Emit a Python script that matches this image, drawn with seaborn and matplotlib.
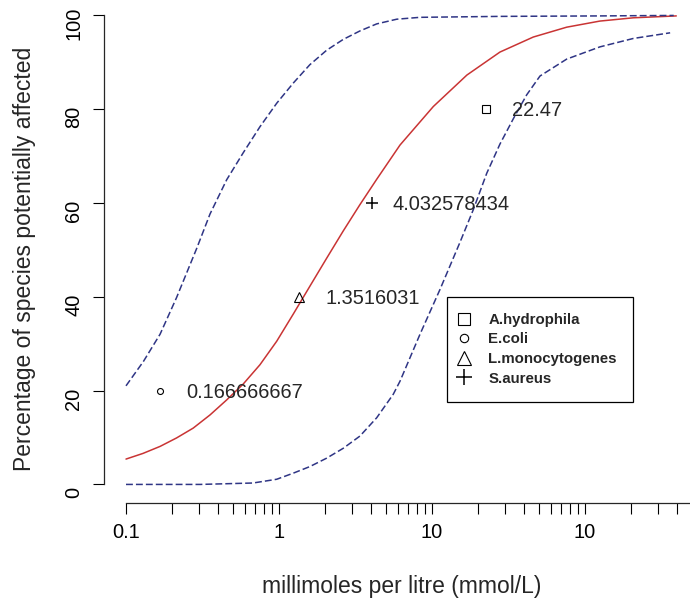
import numpy as np
import pandas as pd
import matplotlib
matplotlib.use("Agg")
import matplotlib.pyplot as plt
import matplotlib.transforms as mtransforms
import seaborn as sns

sns.set_style("ticks")
plt.rcParams['font.family'] = ['Liberation Sans', 'DejaVu Sans']

# fitted SSD curve
fit_x = [0.1, 0.129, 0.167, 0.214, 0.275, 0.354, 0.455, 0.584, 0.751, 0.966, 1.24, 1.59,
         2.05, 2.63, 3.38, 4.35, 6.18, 10.2, 16.9, 27.8, 45.9, 75.9, 125, 207, 395]
fit_y = [5.4, 6.6, 8.1, 9.9, 12.0, 14.8, 18.0, 21.4, 25.5, 30.5, 36.3, 42.2,
         48.2, 54.0, 59.6, 65.0, 72.3, 80.5, 87.2, 92.1, 95.3, 97.4, 98.7, 99.4, 99.8]

# upper and lower confidence limits
up_x = [0.1, 0.130, 0.167, 0.214, 0.290, 0.354, 0.455, 0.585, 0.751, 0.966, 1.24,
        1.59, 2.05, 2.63, 3.38, 4.35, 5.88, 8.35, 27.8, 125, 380]
up_y = [21.0, 26.2, 32.0, 39.8, 50.3, 57.6, 64.9, 70.7, 76.2, 81.2, 85.5,
        89.4, 92.5, 94.8, 96.6, 98.1, 99.1, 99.5, 99.7, 99.8, 99.9]

lo_x = [0.1, 0.305, 0.676, 0.966, 1.24, 1.59, 2.05, 2.63, 3.38, 4.35, 5.58, 6.18,
        8.35, 11.3, 15.2, 18.6, 22.8, 27.8, 34.0, 41.6, 50.8, 75.9, 125, 207, 360]
lo_y = [0.0, 0.0, 0.3, 1.1, 2.4, 3.8, 5.6, 7.7, 10.3, 14.2, 19.2, 22.0,
        32.0, 41.6, 51.5, 58.5, 66.3, 72.5, 77.9, 83.0, 87.0, 90.6, 93.2, 95.0, 96.2]

# species toxicity values
species = ["A.hydrophila", "E.coli", "L.monocytogenes", "S.aureus"]
conc = [22.47, 0.166666667, 1.3516031, 4.032578434]
pct = [80, 20, 40, 60]
conc_labels = ["22.47", "0.166666667", "1.3516031", "4.032578434"]

x_ticks = [0.1, 1, 10, 100]
x_ticklabels = ["0.1", "1", "10", "10"]
y_ticks = [0, 20, 40, 60, 80, 100]

fig = plt.figure(figsize=(6.9, 6.01), dpi=100)
ax = fig.add_axes([104 / 690, (601 - 503.2) / 601, 595 / 690, 507 / 601])

red = "#c93434"
navy = "#2f3585"
sns.lineplot(x=fit_x, y=fit_y, ax=ax, color=red, linewidth=1.1, estimator=None)
sns.lineplot(x=up_x, y=up_y, ax=ax, color=navy, linewidth=1.1, estimator=None).lines[-1].set_dashes((4.5, 2))
sns.lineplot(x=lo_x, y=lo_y, ax=ax, color=navy, linewidth=1.1, estimator=None).lines[-1].set_dashes((4.5, 2))

markers = ["s", "o", "^", "+"]
msizes = [6, 4.3, 7.5, 8.4]
offsets = [26, 26, 26, 21]
for sp, c, p, lab, m, ms, off in zip(species, conc, pct, conc_labels, markers, msizes, offsets):
    ax.plot([c], [p], linestyle="none", marker=m, markersize=ms, markerfacecolor="none",
            markeredgecolor="black", markeredgewidth=1.1 if m == "+" else 0.8,
            color="black", label=sp)
    ax.annotate(lab, (c, p), xytext=(off, 0), textcoords="offset pixels",
                ha="left", va="center_baseline", fontsize=14.4)

ax.set_xscale("log")
ax.set_xlim(10 ** -1.1438, 10 ** 2.745)
ax.set_ylim(-4, 104)

ax.spines[["top", "right"]].set_visible(False)
ax.spines["left"].set_bounds(0, 100)
ax.spines["bottom"].set_bounds(0.1, 500)
for s in ["left", "bottom"]:
    ax.spines[s].set_linewidth(0.9)

minor = [m * 10.0 ** e for e in (-1, 0, 1) for m in range(2, 10)] + [200, 300, 400, 500]
ax.set_xticks(x_ticks)
ax.set_xticklabels(x_ticklabels)
ax.set_xticks(minor, minor=True)
ax.set_xticklabels([], minor=True)
ax.set_yticks(y_ticks)
ax.set_yticklabels([str(v) for v in y_ticks])
ax.tick_params(which="both", length=8, width=0.8, direction="out", color="black",
               labelsize=14.4, labelcolor="black")
ax.tick_params(axis="x", which="both", pad=6.5)
ax.tick_params(axis="y", pad=7)
plt.setp(ax.get_yticklabels(), rotation=90, va="center")
# the rotated y labels sit a little below their ticks in the original
shift = mtransforms.ScaledTranslation(0, -8 / 100, fig.dpi_scale_trans)
for lbl in ax.get_yticklabels():
    lbl.set_transform(lbl.get_transform() + shift)

ax.set_xlabel("millimoles per litre (mmol/L)", fontsize=16.5)
ax.xaxis.set_label_coords(0.5, -72 / 507)
ax.set_ylabel("Percentage of species potentially affected", fontsize=16.5)
ax.yaxis.set_label_coords((36 - 104) / 595, 0.481)

leg = ax.legend(loc="upper left", bbox_to_anchor=((446.7 - 104) / 595, (503.2 - 296.7) / 507),
                borderaxespad=0, frameon=True, fancybox=False, framealpha=1,
                edgecolor="black", markerscale=1.4, handlelength=0.1, handletextpad=1.6,
                borderpad=1.08, labelspacing=0.37, prop={"weight": "bold", "size": 10.8})
leg.get_frame().set_linewidth(0.9)

fig.savefig("out.png", dpi=100)
